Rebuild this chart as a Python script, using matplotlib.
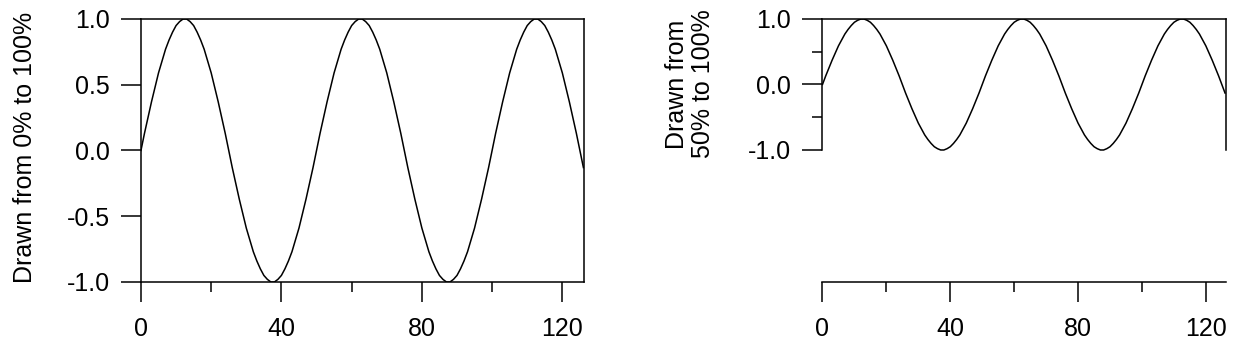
import matplotlib
matplotlib.use("Agg")
import matplotlib.pyplot as plt
from matplotlib.ticker import FixedLocator

plt.rcParams["font.family"] = ["Liberation Sans", "DejaVu Sans"]
plt.rcParams["font.size"] = 18

# wave, one value per x unit (period ~50)
x = list(range(0, 127))
y = [0.00, 0.13, 0.25, 0.37, 0.48, 0.59, 0.68, 0.77, 0.84, 0.90,
     0.95, 0.98, 1.00, 1.00, 0.98, 0.95, 0.90, 0.84, 0.77, 0.68,
     0.59, 0.48, 0.37, 0.25, 0.13, 0.00, -0.13, -0.25, -0.37, -0.48,
     -0.59, -0.68, -0.77, -0.84, -0.90, -0.95, -0.98, -1.00, -1.00, -0.98,
     -0.95, -0.90, -0.84, -0.77, -0.68, -0.59, -0.48, -0.37, -0.25, -0.13,
     0.00, 0.13, 0.25, 0.37, 0.48, 0.59, 0.68, 0.77, 0.84, 0.90,
     0.95, 0.98, 1.00, 1.00, 0.98, 0.95, 0.90, 0.84, 0.77, 0.68,
     0.59, 0.48, 0.37, 0.25, 0.13, 0.00, -0.13, -0.25, -0.37, -0.48,
     -0.59, -0.68, -0.77, -0.84, -0.90, -0.95, -0.98, -1.00, -1.00, -0.98,
     -0.95, -0.90, -0.84, -0.77, -0.68, -0.59, -0.48, -0.37, -0.25, -0.13,
     0.00, 0.13, 0.25, 0.37, 0.48, 0.59, 0.68, 0.77, 0.84, 0.90,
     0.95, 0.98, 1.00, 1.00, 0.98, 0.95, 0.90, 0.84, 0.77, 0.68,
     0.59, 0.48, 0.37, 0.25, 0.13, 0.00, -0.13]

x_major = [0, 40, 80, 120]
x_minor = [20, 60, 100]
y_left = [-1.0, -0.5, 0.0, 0.5, 1.0]
y_right_major = [-1.0, 0.0, 1.0]
y_right_minor = [-0.5, 0.5]

XMAX = 126.3
LW = 1.1

fig = plt.figure(figsize=(12.43, 3.51), dpi=100)
ax1 = fig.add_axes([0.1134, 0.1966, 0.3568, 0.7493])
ax2 = fig.add_axes([0.6617, 0.1966, 0.3246, 0.7493])


def style_x(ax):
    ax.set_xlim(0, XMAX)
    ax.xaxis.set_major_locator(FixedLocator(x_major))
    ax.xaxis.set_minor_locator(FixedLocator(x_minor))
    ax.tick_params(axis="x", which="major", direction="out", length=14.5, width=LW, pad=10.5)
    ax.tick_params(axis="x", which="minor", direction="out", length=7.2, width=LW)
    for s in ax.spines.values():
        s.set_linewidth(LW)


# left: full height
ax1.plot(x, y, color="black", linewidth=LW)
style_x(ax1)
ax1.set_ylim(-1, 1)
ax1.set_yticks(y_left)
ax1.set_yticklabels(["%.1f" % v for v in y_left])
ax1.tick_params(axis="y", direction="out", length=14.5, width=LW, pad=8)
ax1.set_ylabel("Drawn from 0% to 100%", fontsize=18, va="center")
ax1.yaxis.set_label_coords(-0.2616, 0.51)

# right: wave squeezed into top half
ax2.plot(x, y, color="black", linewidth=LW)
style_x(ax2)
ylo = -1 - 2 * 132 / 131
ax2.set_ylim(ylo, 1)
ax2.spines["left"].set_bounds(-1, 1)
ax2.spines["right"].set_bounds(-1, 1)
ax2.yaxis.set_major_locator(FixedLocator(y_right_major))
ax2.yaxis.set_minor_locator(FixedLocator(y_right_minor))
ax2.set_yticklabels(["%.1f" % v for v in y_right_major])
ax2.tick_params(axis="y", which="major", direction="out", length=14.5, width=LW, pad=8)
ax2.tick_params(axis="y", which="minor", direction="out", length=7.2, width=LW)
ax2.set_ylabel("Drawn from\n50% to 100%", fontsize=18, va="center", linespacing=1.15)
ax2.yaxis.set_label_coords(-0.3284, 0.753)

fig.savefig("out.png", dpi=100)
